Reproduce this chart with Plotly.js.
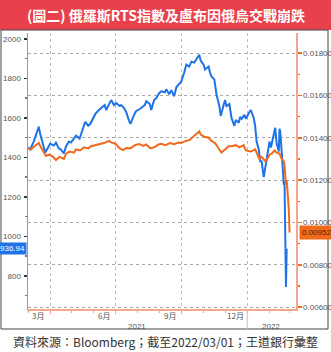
<!DOCTYPE html>
<html><head><meta charset="utf-8">
<script src="https://cdn.plot.ly/plotly-3.0.1.min.js"></script>
<style>html,body{margin:0;padding:0;background:#fff;}#chart{width:331px;height:352px;}</style>
</head><body><div id="chart"></div>
<script>
// RTS index (left axis)
const rtsDates = ['2021-03-01','2021-03-04','2021-03-09','2021-03-12','2021-03-16','2021-03-18','2021-03-22','2021-03-25','2021-03-29','2021-04-01','2021-04-06','2021-04-09','2021-04-13','2021-04-16','2021-04-20','2021-04-23','2021-04-27','2021-04-30','2021-05-05','2021-05-07','2021-05-12','2021-05-14','2021-05-18','2021-05-20','2021-05-24','2021-05-27','2021-05-31','2021-06-03','2021-06-08','2021-06-11','2021-06-16','2021-06-18','2021-06-22','2021-06-25','2021-06-29','2021-07-02','2021-07-07','2021-07-09','2021-07-13','2021-07-16','2021-07-20','2021-07-22','2021-07-27','2021-07-30','2021-08-04','2021-08-06','2021-08-11','2021-08-13','2021-08-18','2021-08-20','2021-08-24','2021-08-27','2021-08-31','2021-09-03','2021-09-08','2021-09-10','2021-09-14','2021-09-17','2021-09-21','2021-09-24','2021-09-28','2021-10-01','2021-10-05','2021-10-08','2021-10-12','2021-10-15','2021-10-19','2021-10-22','2021-10-26','2021-10-28','2021-11-01','2021-11-03','2021-11-08','2021-11-10','2021-11-12','2021-11-16','2021-11-19','2021-11-23','2021-11-25','2021-11-29','2021-12-01','2021-12-03','2021-12-07','2021-12-10','2021-12-14','2021-12-16','2021-12-20','2021-12-22','2021-12-24','2021-12-28','2021-12-30','2022-01-04','2022-01-06','2022-01-10','2022-01-12','2022-01-14','2022-01-17','2022-01-19','2022-01-21','2022-01-24','2022-01-26','2022-01-28','2022-02-01','2022-02-03','2022-02-07','2022-02-09','2022-02-11','2022-02-14','2022-02-15','2022-02-16','2022-02-18','2022-02-21','2022-02-22','2022-02-24','2022-02-25'];
const rtsValues = [1450,1440,1480,1510,1555,1520,1470,1425,1450,1470,1460,1475,1445,1440,1420,1455,1480,1475,1500,1510,1495,1520,1560,1580,1560,1570,1600,1620,1640,1650,1665,1640,1670,1690,1665,1675,1660,1665,1650,1630,1585,1570,1615,1635,1645,1650,1665,1685,1670,1640,1690,1700,1725,1735,1730,1745,1720,1740,1710,1755,1770,1785,1830,1870,1860,1885,1880,1895,1920,1890,1870,1845,1860,1830,1810,1795,1720,1660,1610,1665,1690,1660,1670,1600,1560,1590,1575,1605,1595,1615,1596,1630,1640,1600,1560,1480,1440,1380,1380,1300,1340,1400,1480,1450,1520,1550,1470,1430,1545,1530,1430,1260,1280,742.92,936.94];

// Ruble per USD inverted (right axis)
const rubDates = ['2021-03-01','2021-03-05','2021-03-10','2021-03-16','2021-03-19','2021-03-23','2021-03-26','2021-03-31','2021-04-05','2021-04-09','2021-04-14','2021-04-20','2021-04-23','2021-04-28','2021-05-04','2021-05-07','2021-05-13','2021-05-18','2021-05-24','2021-05-28','2021-06-03','2021-06-09','2021-06-15','2021-06-22','2021-06-25','2021-07-01','2021-07-07','2021-07-12','2021-07-16','2021-07-22','2021-07-28','2021-08-03','2021-08-09','2021-08-13','2021-08-19','2021-08-24','2021-08-30','2021-09-03','2021-09-09','2021-09-15','2021-09-21','2021-09-27','2021-10-01','2021-10-07','2021-10-13','2021-10-19','2021-10-22','2021-10-26','2021-10-28','2021-11-02','2021-11-08','2021-11-12','2021-11-17','2021-11-22','2021-11-26','2021-12-01','2021-12-06','2021-12-10','2021-12-16','2021-12-21','2021-12-27','2021-12-30','2022-01-06','2022-01-12','2022-01-18','2022-01-21','2022-01-26','2022-01-28','2022-02-01','2022-02-04','2022-02-08','2022-02-11','2022-02-15','2022-02-18','2022-02-21','2022-02-22','2022-02-24','2022-02-25','2022-02-28','2022-03-01'];
const rubValues = [0.01350,0.01345,0.01360,0.01375,0.01355,0.01330,0.01315,0.01320,0.01310,0.01295,0.01310,0.01300,0.01325,0.01335,0.01330,0.01345,0.01340,0.01355,0.01350,0.01360,0.01365,0.01370,0.01375,0.01385,0.01378,0.01372,0.01350,0.01342,0.01352,0.01350,0.01365,0.01370,0.01362,0.01368,0.01350,0.01355,0.01368,0.01372,0.01365,0.01375,0.01370,0.01378,0.01375,0.01385,0.01390,0.01410,0.01420,0.01430,0.01415,0.01405,0.01400,0.01385,0.01375,0.01350,0.01330,0.01345,0.01360,0.01360,0.01365,0.01355,0.01365,0.01340,0.01335,0.01345,0.01300,0.01310,0.01290,0.01295,0.01320,0.01325,0.01340,0.01330,0.01325,0.01300,0.01290,0.01270,0.01180,0.01200,0.01060,0.00952];

const monthLabels = ['3月','6月','9月','12月'];
const monthLabelDates = ['2021-03-15','2021-06-15','2021-09-15','2021-12-15'];
const gridDates = ['2021-04-01','2021-07-01','2021-10-01','2022-01-01'];
const yearLabels = ['2021','2022'];
const yearLabelDates = ['2021-07-31','2022-02-03'];
const lastRts = 936.94;
const lastRub = 0.00952;
const titleText = '(圖二) 俄羅斯RTS指數及盧布因俄烏交戰崩跌';
const sourceText = '資料來源：Bloomberg；截至2022/03/01；王道銀行彙整';

const BLUE = '#1f73e6', ORANGE = '#f06a1e';
const W = 331, H = 352, ML = 28, MR = 35, MT = 33, MB = 43;
const pw = W - ML - MR, ph = H - MT - MB;
const px = p => (p - ML) / pw;
const py = p => (H - MB - p) / ph;

const traces = [
  {x: rtsDates, y: rtsValues, type: 'scatter', mode: 'lines', line: {color: BLUE, width: 2}, yaxis: 'y', hoverinfo: 'skip'},
  {x: rubDates, y: rubValues, type: 'scatter', mode: 'lines', line: {color: ORANGE, width: 2}, yaxis: 'y2', hoverinfo: 'skip'}
];

const annotations = [];
monthLabels.forEach((t, i) => annotations.push({x: monthLabelDates[i], xref: 'x', y: py(H - MB + 7), yref: 'paper', text: t, showarrow: false, font: {size: 8, color: '#555', family: 'Noto Sans CJK TC'}, yanchor: 'middle'}));
yearLabels.forEach((t, i) => annotations.push({x: yearLabelDates[i], xref: 'x', y: py(H - MB + 17), yref: 'paper', text: t, showarrow: false, font: {size: 8, color: '#555', family: 'Liberation Sans'}, yanchor: 'middle'}));
annotations.push({x: 0, xref: 'paper', xanchor: 'right', y: lastRts, yref: 'y', text: lastRts.toFixed(2), showarrow: false, bgcolor: BLUE, font: {size: 8, color: '#fff', family: 'Liberation Sans'}, borderpad: 1, xshift: -1});
annotations.push({x: 1, xref: 'paper', xanchor: 'left', y: lastRub, yref: 'y2', text: lastRub.toFixed(5), showarrow: false, bgcolor: ORANGE, font: {size: 8, color: '#5a2000', family: 'Liberation Sans'}, borderpad: 2, xshift: 3});
annotations.push({x: 0.5, xref: 'paper', y: py(15), yref: 'paper', text: '<b>' + titleText + '</b>', showarrow: false, font: {size: 14, color: '#fff', family: 'Noto Sans CJK TC'}, xanchor: 'center', yanchor: 'middle', xshift: (W/2 - (ML + pw/2))});
annotations.push({x: 0.5, xref: 'paper', y: py(341), yref: 'paper', text: sourceText, showarrow: false, font: {size: 12, color: '#333', family: 'Noto Sans CJK TC'}, xanchor: 'center', yanchor: 'middle', xshift: (W/2 - (ML + pw/2))});

const shapes = [
  {type: 'rect', xref: 'paper', yref: 'paper', x0: px(0), x1: px(W), y0: py(30), y1: py(0), fillcolor: '#e8414b', line: {width: 0}, layer: 'below'},
  {type: 'rect', xref: 'paper', yref: 'paper', x0: px(1), x1: px(328), y0: py(329), y1: py(30), line: {color: '#444', width: 1}, fillcolor: 'rgba(0,0,0,0)'},
  {type: 'line', xref: 'x', yref: 'paper', x0: '2022-01-01', x1: '2022-01-01', y0: py(329), y1: 0, line: {color: '#f6b3a5', width: 1}}
];

const layout = {
  width: W, height: H,
  margin: {l: ML, r: MR, t: MT, b: MB},
  paper_bgcolor: '#fff', plot_bgcolor: '#fff',
  showlegend: false,
  font: {family: 'Liberation Sans', size: 8, color: '#555'},
  xaxis: {
    type: 'date', range: ['2021-03-01', '2022-03-10'],
    tickvals: gridDates, showticklabels: false,
    ticks: 'outside', ticklen: 3, tickcolor: '#f3a58e',
    showgrid: true, gridcolor: '#bbb', griddash: 'dot', gridwidth: 1,
    showline: true, linecolor: '#f3a58e', linewidth: 1.5,
    minor: {dtick: 'M1', tick0: '2021-03-01', ticks: 'outside', ticklen: 2, tickcolor: '#f3a58e', showgrid: false},
    zeroline: false, fixedrange: true
  },
  yaxis: {
    range: [632, 2030], tickvals: [800, 1000, 1200, 1400, 1600, 1800, 2000],
    ticks: 'outside', ticklen: 3, tickcolor: '#333', tickwidth: 1.5,
    showgrid: false, showline: true, linecolor: '#999', linewidth: 1.5,
    minor: {dtick: 100, ticks: 'outside', ticklen: 2, tickcolor: '#777', showgrid: false},
    tickfont: {size: 8, color: '#555'}, zeroline: false, ticklabelstandoff: 1
  },
  yaxis2: {
    overlaying: 'y', side: 'right', range: [0.00591, 0.01895],
    tickvals: [0.006, 0.008, 0.010, 0.012, 0.014, 0.016, 0.018], tickformat: '.5f',
    ticks: 'outside', ticklen: 4, tickcolor: ORANGE, tickwidth: 1.5,
    showgrid: true, gridcolor: '#aaa', griddash: 'dot', gridwidth: 1,
    showline: true, linecolor: '#f3a58e', linewidth: 1.5,
    minor: {dtick: 0.001, ticks: 'outside', ticklen: 2, tickcolor: ORANGE, showgrid: false},
    tickfont: {size: 8, color: '#555'}, zeroline: false
  },
  annotations: annotations,
  shapes: shapes
};

Plotly.newPlot('chart', traces, layout, {staticPlot: true, displayModeBar: false});
</script></body></html>
